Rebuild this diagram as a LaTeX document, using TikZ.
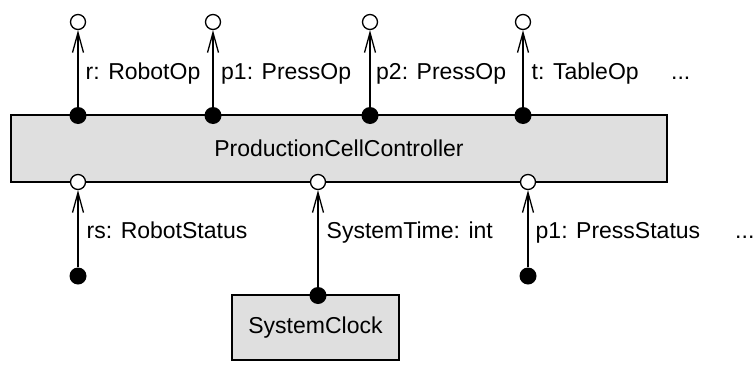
\documentclass[tikz,border=0pt]{standalone}
\usepackage{fontspec}
\setmainfont{Liberation Sans}
\usetikzlibrary{arrows.meta}
\definecolor{boxgray}{HTML}{DFDFDF}
\begin{document}
\begin{tikzpicture}[x=1pt,y=-1pt,
  font=\fontsize{23}{27}\selectfont,
  comp/.style={draw, line width=1.3pt, fill=boxgray, inner sep=0pt},
  req/.style={circle, draw, fill=white, line width=1.3pt, minimum size=15pt, inner sep=0pt},
  prov/.style={circle, fill=black, minimum size=17pt, inner sep=0pt},
  conn/.style={line width=1.3pt, -{Straight Barb[length=20pt,width=11pt]}},
  lbl/.style={anchor=base west, inner sep=0pt}]
\useasboundingbox (0,0) rectangle (754,364);

% components
\node[comp, minimum width=656pt, minimum height=67pt] (pcc) at (339,148.5) {ProductionCellController};
\node[comp, minimum width=167pt, minimum height=65pt] (clk) at (315.5,327.5) {SystemClock};

% top ports
\foreach \i/\x in {1/78,2/213,3/370,4/523}{
  \node[prov] (tp\i) at (\x,115.5) {};
  \node[req] (to\i) at (\x,22) {};
  \draw[conn] (tp\i) -- (to\i);
}

% bottom ports
\node[req] (bo1) at (78,182) {};
\node[req] (bo2) at (318,182) {};
\node[req] (bo3) at (528,182) {};
\node[prov] (bp1) at (78,276) {};
\node[prov] (bp2) at (318,295.5) {};
\node[prov] (bp3) at (528,276) {};
\draw[conn] (bp1) -- (bo1);
\draw[conn] (bp2) -- (bo2);
\draw[conn] (bp3) -- (bo3);

% labels
\node[lbl] (l1) at (85.5,79.5) {r: RobotOp};
\node[lbl] (l2) at (221,79.5) {p1: PressOp};
\node[lbl] (l3) at (376,79.5) {p2: PressOp};
\node[lbl] (l4) at (531.5,79.5) {t: TableOp};
\node[lbl] (l5) at (671,79.5) {...};
\node[lbl] (l6) at (86.5,238) {rs: RobotStatus};
\node[lbl] (l7) at (326.5,238) {SystemTime: int};
\node[lbl] (l8) at (535.5,238) {p1: PressStatus};
\node[lbl] (l9) at (735,238) {...};
\end{tikzpicture}
\end{document}
